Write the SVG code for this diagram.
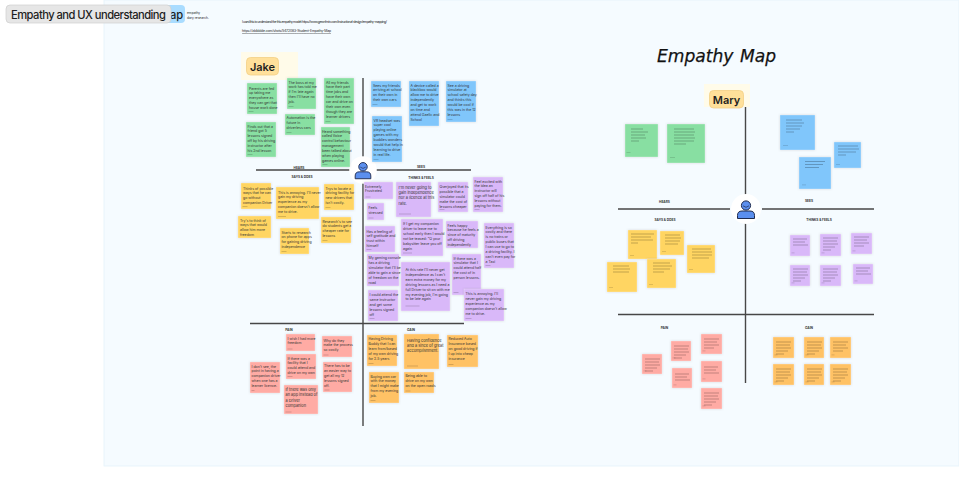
<svg xmlns="http://www.w3.org/2000/svg" width="959" height="480" viewBox="0 0 959 480">
<style>
text{font-family:Inter,"Liberation Sans",sans-serif;fill:#1e1e1e}
.s rect.b{stroke:#fff;stroke-opacity:.55;stroke-width:.5;filter:drop-shadow(0 .6px .8px rgba(0,0,0,.14))}
.g rect.b{fill:#88dfa2}.u rect.b{fill:#80c6fb}.y rect.b{fill:#ffd562}.p rect.b{fill:#d9b8f9}.r rect.b{fill:#ffaba4}.o rect.b{fill:#ffc265}
.s text{font-size:3.5px;fill:#333}
.m text{font-size:3.9px}
.c{fill:#000;fill-opacity:.16}
.l{stroke:#000;stroke-opacity:.27;stroke-width:.9}
.h{font-size:3.2px;font-weight:700;text-anchor:middle;fill:#333}
.ax{stroke:#474747;stroke-width:1.4;fill:none}
.tag{fill:#ffe09a;stroke:#f3cf85;stroke-width:.8}
.pb{fill:#5b8fee;stroke:#1f2b4d;stroke-width:1}
</style>
<defs>
<g id="person">
<circle r="15" fill="#fff"/>
<circle cy="-3.5" r="4.6" class="pb"/>
<path d="M-3 -3.2q3 3 6 0" fill="none" stroke="#1f2b4d" stroke-width=".7"/>
<path d="M-8.5 9.5v-3q0-4.5 4.5-4.5h8q4.500 0 4.500 4.500v3z" class="pb"/>
</g>
<path id="gr3" class="l" d="M3 6h14M3 9h12M3 12h15"/>
<path id="gr4" class="l" d="M3 5h15M3 8h13M3 11h15M3 14h10"/>
<path id="gr5" class="l" d="M3 5h15M3 8h14M3 11h15M3 14h12M3 17h8"/>
</defs>

<rect x="104" y="0" width="855" height="466" fill="#f5fbff" stroke="#e4f2fb" stroke-width=".8"/>

<g id="section-title">
<rect x="60" y="5" width="125" height="18" rx="4" fill="#a9dcff"/>
<text x="170" y="18.500" font-size="11.200" font-weight="500">ap</text>
<text x="187" y="14" font-size="3.200" fill="#555">empathy</text>
<text x="187" y="18.700" font-size="3.200" fill="#555">dary research.</text>
<rect x="6" y="5" width="165" height="18" rx="4" fill="#e6e6e6" stroke="#cfcfcf" stroke-width=".7"/>
<text x="11" y="18.500" font-size="11.200" font-weight="500" textLength="155" lengthAdjust="spacing">Empathy and UX understanding</text>
</g>

<g id="links">
<text x="242" y="22.500" font-size="3.400" textLength="145" fill="#333">I used this to understand the this empathy model:  https://www.geronfmin.com/instructional-design/empathy-mapping/</text>
<text x="242" y="32" font-size="3.400" textLength="89" text-decoration="underline" fill="#333">https://zbibbble.com/shots/5472083-Student-Empathy-Map</text>
</g>

<text id="heading" x="657" y="62" font-size="18" font-style="italic" word-spacing="1" textLength="119" lengthAdjust="spacingAndGlyphs" stroke="#111" stroke-width=".25" style="font-family:'DejaVu Sans',sans-serif;fill:#111">Empathy Map</text>

<g id="connectors">
<path class="ax" d="M363 78V426M256 170H350M376 170H471M250 323.500H464"/>
<path class="ax" d="M745.500 103V383M618 209H730M762 209H874M618 314.500H874"/>
</g>

<g id="jake">
<rect x="241" y="52" width="57" height="28" fill="#fffbe9"/>
<rect class="tag" x="246.500" y="57.500" width="32" height="17.500" rx="4"/>
<text x="262.500" y="70.500" font-size="11" font-weight="600" text-anchor="middle">Jake</text>
</g>
<g id="mary">
<rect x="704" y="84" width="46" height="23" fill="#fffbe9"/>
<rect class="tag" x="709.500" y="90.500" width="34" height="17.500" rx="4"/>
<text x="726.500" y="103.500" font-size="11" font-weight="600" text-anchor="middle">Mary</text>
</g>
<g id="person-jake"><use href="#person" transform="translate(363 170) scale(.92)"/></g>
<g id="person-mary"><use href="#person" transform="translate(746 209)"/></g>

<g id="labels">
<text class="h" x="299" y="168.500">HEARS</text><text class="h" x="302" y="177.500">SAYS &amp; DOES</text>
<text class="h" x="421" y="167.500">SEES</text><text class="h" x="421" y="178.500">THINKS &amp; FEELS</text>
<text class="h" x="289" y="330.500">PAIN</text><text class="h" x="411" y="330.500">GAIN</text>
<text class="h" x="664.500" y="203">HEARS</text><text class="h" x="665" y="220.500">SAYS &amp; DOES</text>
<text class="h" x="809" y="202">SEES</text><text class="h" x="819" y="220.500">THINKS &amp; FEELS</text>
<text class="h" x="664.500" y="329">PAIN</text><text class="h" x="809" y="329">GAIN</text>
</g>

<g id="j-hears">
<g class="s g" transform="translate(247 83)"><rect class="b" width="30" height="31"/><rect class="c" x="1.500" y="28" width="5" height="1"/><text y="6.500"><tspan x="2" dy="0">Parents are fed</tspan><tspan x="2" dy="4.900">up taking me</tspan><tspan x="2" dy="4.900">everywhere as</tspan><tspan x="2" dy="4.900">they can get that</tspan><tspan x="2" dy="4.900">house work done</tspan></text></g>
<g class="s g" transform="translate(287 78)"><rect class="b" width="29" height="31"/><rect class="c" x="1.500" y="28" width="5" height="1"/><text y="5.500"><tspan x="1.500" dy="0">The boss at my</tspan><tspan x="1.500" dy="4.900">work has told me</tspan><tspan x="1.500" dy="4.900">if I'm late again</tspan><tspan x="1.500" dy="4.900">then I'll have no</tspan><tspan x="1.500" dy="4.900">job.</tspan></text></g>
<g class="s g" transform="translate(324 78)"><rect class="b" width="30" height="46"/><rect class="c" x="1.500" y="43" width="5" height="1"/><text y="5.500"><tspan x="2" dy="0">All my friends</tspan><tspan x="2" dy="4.900">have their part</tspan><tspan x="2" dy="4.900">time jobs and</tspan><tspan x="2" dy="4.900">have their own</tspan><tspan x="2" dy="4.900">car and drive on</tspan><tspan x="2" dy="4.900">their own even</tspan><tspan x="2" dy="4.900">though they are</tspan><tspan x="2" dy="4.900">learner drivers</tspan></text></g>
<g class="s g" transform="translate(285 114)"><rect class="b" width="30" height="21"/><rect class="c" x="1.500" y="18" width="5" height="1"/><text y="5"><tspan x="1.500" dy="0">Automation is the</tspan><tspan x="1.500" dy="4.900">future in</tspan><tspan x="1.500" dy="4.900">driverless cars</tspan></text></g>
<g class="s g" transform="translate(246 122)"><rect class="b" width="30" height="35"/><rect class="c" x="1.500" y="32" width="5" height="1"/><text y="5.500"><tspan x="1.500" dy="0">Finds out that a</tspan><tspan x="1.500" dy="4.900">friend got 5</tspan><tspan x="1.500" dy="4.900">lessons signed</tspan><tspan x="1.500" dy="4.900">off by his driving</tspan><tspan x="1.500" dy="4.900">instructor after</tspan><tspan x="1.500" dy="4.900">his  2nd lesson</tspan></text></g>
<g class="s g" transform="translate(321 127)"><rect class="b" width="29" height="40"/><rect class="c" x="1.500" y="37" width="5" height="1"/><text y="5.500"><tspan x="1" dy="0">Heard something</tspan><tspan x="1" dy="4.900">called Voice</tspan><tspan x="1" dy="4.900">control behaviour</tspan><tspan x="1" dy="4.900">management</tspan><tspan x="1" dy="4.900">been talked about</tspan><tspan x="1" dy="4.900">when playing</tspan><tspan x="1" dy="4.900">games online.</tspan></text></g>
</g>

<g id="j-sees">
<g class="s u" transform="translate(371 81)"><rect class="b" width="30" height="26"/><rect class="c" x="1.500" y="23" width="5" height="1"/><text y="5.500"><tspan x="2" dy="0">Sees my friends</tspan><tspan x="2" dy="4.900">arriving at school</tspan><tspan x="2" dy="4.900">on their own in</tspan><tspan x="2" dy="4.900">their own cars</tspan></text></g>
<g class="s u" transform="translate(409 81)"><rect class="b" width="30" height="45"/><text y="5.500"><tspan x="1.500" dy="0">A device called a</tspan><tspan x="1.500" dy="4.900">blackbox would</tspan><tspan x="1.500" dy="4.900">allow me to drive</tspan><tspan x="1.500" dy="4.900">independently</tspan><tspan x="1.500" dy="4.900">and get to work</tspan><tspan x="1.500" dy="4.900">on time and</tspan><tspan x="1.500" dy="4.900">attend Gaelic and</tspan><tspan x="1.500" dy="4.900">School</tspan></text></g>
<g class="s u" transform="translate(446 81)"><rect class="b" width="30" height="41"/><rect class="c" x="1.500" y="38" width="5" height="1"/><text y="5.500"><tspan x="1.500" dy="0">See a driving</tspan><tspan x="1.500" dy="4.900">simulator at</tspan><tspan x="1.500" dy="4.900">school safety day</tspan><tspan x="1.500" dy="4.900">and thinks this</tspan><tspan x="1.500" dy="4.900">would be cool if</tspan><tspan x="1.500" dy="4.900">this was in the 12</tspan><tspan x="1.500" dy="4.900">lessons</tspan></text></g>
<g class="s u" transform="translate(372 116)"><rect class="b" width="30" height="46"/><rect class="c" x="1.500" y="43" width="5" height="1"/><text y="5.500"><tspan x="1.500" dy="0">VR headset was</tspan><tspan x="1.500" dy="4.900">super cool</tspan><tspan x="1.500" dy="4.900">playing online</tspan><tspan x="1.500" dy="4.900">games with my</tspan><tspan x="1.500" dy="4.900">buddies wonders</tspan><tspan x="1.500" dy="4.900">would that help in</tspan><tspan x="1.500" dy="4.900">learning to drive</tspan><tspan x="1.500" dy="4.900">in real life.</tspan></text></g>
</g>

<g id="j-says">
<g class="s y" transform="translate(241 183)"><rect class="b" width="30" height="26"/><rect class="c" x="1.500" y="23" width="5" height="1"/><text y="6.500"><tspan x="2" dy="0">Thinks of possible</tspan><tspan x="2" dy="4.900">ways that he can</tspan><tspan x="2" dy="4.900">go without</tspan><tspan x="2" dy="4.900">companion Driver</tspan></text></g>
<g class="s y" transform="translate(276 187)"><rect class="b" width="43" height="32"/><rect class="c" x="2" y="29" width="8" height="1"/><text y="6.500"><tspan x="2" dy="0">This is annoying.  I'll never</tspan><tspan x="2" dy="4.900">gain my driving</tspan><tspan x="2" dy="4.900">experience as my</tspan><tspan x="2" dy="4.900">companion doesn't allow</tspan><tspan x="2" dy="4.900">me to drive.</tspan></text></g>
<g class="s y" transform="translate(324 184)"><rect class="b" width="30" height="26"/><rect class="c" x="1.500" y="23" width="5" height="1"/><text y="5.500"><tspan x="1.500" dy="0">Trys to locate a</tspan><tspan x="1.500" dy="4.900">driving facility for</tspan><tspan x="1.500" dy="4.900">new drivers that</tspan><tspan x="1.500" dy="4.900">isn't costly.</tspan></text></g>
<g class="s y" transform="translate(238 216)"><rect class="b" width="33" height="22"/><text y="5.500"><tspan x="2" dy="0">Try's to think of</tspan><tspan x="2" dy="4.900">ways that would</tspan><tspan x="2" dy="4.900">allow him more</tspan><tspan x="2" dy="4.900">freedom</tspan></text></g>
<g class="s y" transform="translate(280 228)"><rect class="b" width="29" height="26"/><rect class="c" x="1.500" y="23" width="5" height="1"/><text y="5.500"><tspan x="1.500" dy="0">Starts to research</tspan><tspan x="1.500" dy="4.900">on phone for apps</tspan><tspan x="1.500" dy="4.900">for gaining driving</tspan><tspan x="1.500" dy="4.900">independence</tspan></text></g>
<g class="s y" transform="translate(321 217)"><rect class="b" width="30" height="26"/><rect class="c" x="1.500" y="23" width="5" height="1"/><text y="5.500"><tspan x="1.500" dy="0">Research's to see</tspan><tspan x="1.500" dy="4.900">do students get a</tspan><tspan x="1.500" dy="4.900">cheaper rate for</tspan><tspan x="1.500" dy="4.900">lessons</tspan></text></g>
</g>

<g id="j-thinks">
<g class="s p" transform="translate(364 182)"><rect class="b" width="29" height="17"/><rect class="c" x="1.500" y="14.500" width="5" height="1"/><text y="5.500"><tspan x="1" dy="0">Extremely</tspan><tspan x="1" dy="4.900">Frustrated</tspan></text></g>
<g class="s p m" transform="translate(396 182)"><rect class="b" width="35" height="35"/><rect class="c" x="3" y="31.500" width="12" height="1"/><text y="7"><tspan x="2.500" dy="0">I'm never going to</tspan><tspan x="2.500" dy="5.200">gain independence</tspan><tspan x="2.500" dy="5.200">nor a licence at this</tspan><tspan x="2.500" dy="5.200">rate.</tspan></text></g>
<g class="s p" transform="translate(438 182)"><rect class="b" width="30" height="30"/><rect class="c" x="1.500" y="27" width="5" height="1"/><text y="6"><tspan x="1.500" dy="0">Overjoyed that its</tspan><tspan x="1.500" dy="4.900">possible that a</tspan><tspan x="1.500" dy="4.900">simulator could</tspan><tspan x="1.500" dy="4.900">make the cost of</tspan><tspan x="1.500" dy="4.900">lessons cheaper</tspan></text></g>
<g class="s p" transform="translate(473 177)"><rect class="b" width="30" height="35"/><rect class="c" x="1.500" y="32" width="5" height="1"/><text y="5.500"><tspan x="1.500" dy="0">Feel excited with</tspan><tspan x="1.500" dy="4.900">the idea an</tspan><tspan x="1.500" dy="4.900">instructor will</tspan><tspan x="1.500" dy="4.900">sign off half of his</tspan><tspan x="1.500" dy="4.900">lessons without</tspan><tspan x="1.500" dy="4.900">paying for them.</tspan></text></g>
<g class="s p" transform="translate(367 203)"><rect class="b" width="17" height="17"/><rect class="c" x="1.500" y="14.500" width="5" height="1"/><text y="6"><tspan x="1.500" dy="0">Feels</tspan><tspan x="1.500" dy="4.900">stressed</tspan></text></g>
<g class="s p" transform="translate(365 226)"><rect class="b" width="30" height="26"/><rect class="c" x="1.500" y="23" width="5" height="1"/><text y="6.500"><tspan x="1.500" dy="0">Has a feeling of</tspan><tspan x="1.500" dy="4.900">self gratitude and</tspan><tspan x="1.500" dy="4.900">trust within</tspan><tspan x="1.500" dy="4.900">himself</tspan></text></g>
<g class="s p" transform="translate(401 219)"><rect class="b" width="42" height="37"/><rect class="c" x="2" y="33.500" width="9" height="1"/><text y="6"><tspan x="2" dy="0">If I get my companion</tspan><tspan x="2" dy="4.900">driver to leave me to</tspan><tspan x="2" dy="4.900">school early then I would</tspan><tspan x="2" dy="4.900">not be teased: "O your</tspan><tspan x="2" dy="4.900">babysitter leave you off</tspan><tspan x="2" dy="4.900">again</tspan></text></g>
<g class="s p" transform="translate(446 221)"><rect class="b" width="32" height="27"/><text y="5.500"><tspan x="1.500" dy="0">Feels happy</tspan><tspan x="1.500" dy="4.900">because he feels a</tspan><tspan x="1.500" dy="4.900">since of maturity</tspan><tspan x="1.500" dy="4.900">off driving</tspan><tspan x="1.500" dy="4.900">independently</tspan></text></g>
<g class="s p" transform="translate(484 223)"><rect class="b" width="30" height="45"/><rect class="c" x="1.500" y="42" width="5" height="1"/><text y="5.500"><tspan x="1.500" dy="0">Everything is so</tspan><tspan x="1.500" dy="4.900">costly and there</tspan><tspan x="1.500" dy="4.900">is no trains or</tspan><tspan x="1.500" dy="4.900">public buses that</tspan><tspan x="1.500" dy="4.900">I can use to go to</tspan><tspan x="1.500" dy="4.900">a driving facility. I</tspan><tspan x="1.500" dy="4.900">can't even pay for</tspan><tspan x="1.500" dy="4.900">a Taxi</tspan></text></g>
<g class="s p" transform="translate(367 254)"><rect class="b" width="32" height="32"/><text y="5"><tspan x="1.500" dy="0">My gaming console</tspan><tspan x="1.500" dy="4.900">has a driving</tspan><tspan x="1.500" dy="4.900">simulator that I'll be</tspan><tspan x="1.500" dy="4.900">able to gain a since</tspan><tspan x="1.500" dy="4.900">of freedom on the</tspan><tspan x="1.500" dy="4.900">road</tspan></text></g>
<g class="s p" transform="translate(401 262)"><rect class="b" width="49" height="49"/><rect class="c" x="4.500" y="43.500" width="14" height="1"/><text y="9"><tspan x="4.500" dy="0">At this rate I'll never get</tspan><tspan x="4.500" dy="4.900">independence as I can't</tspan><tspan x="4.500" dy="4.900">earn extra money for my</tspan><tspan x="4.500" dy="4.900">driving lessons as I need a</tspan><tspan x="4.500" dy="4.900">full Driver to sit on with me</tspan><tspan x="4.500" dy="4.900">my evening  job, I'm going</tspan><tspan x="4.500" dy="4.900">to be late again</tspan></text></g>
<g class="s p" transform="translate(452 254)"><rect class="b" width="29" height="41"/><rect class="c" x="1.500" y="38" width="5" height="1"/><text y="5.500"><tspan x="1.500" dy="0">If there was a</tspan><tspan x="1.500" dy="4.900">simulator that I</tspan><tspan x="1.500" dy="4.900">could attend half</tspan><tspan x="1.500" dy="4.900">the cost of in</tspan><tspan x="1.500" dy="4.900">person lessons.</tspan></text></g>
<g class="s p" transform="translate(368 290)"><rect class="b" width="30" height="31"/><rect class="c" x="1.500" y="28" width="5" height="1"/><text y="6"><tspan x="1.500" dy="0">I could attend the</tspan><tspan x="1.500" dy="4.900">same instructor</tspan><tspan x="1.500" dy="4.900">and get some</tspan><tspan x="1.500" dy="4.900">lessons signed</tspan><tspan x="1.500" dy="4.900">off</tspan></text></g>
<g class="s p" transform="translate(464 289)"><rect class="b" width="40" height="32"/><rect class="c" x="1.500" y="29" width="6" height="1"/><text y="6"><tspan x="1.500" dy="0">This is annoying.  I'll</tspan><tspan x="1.500" dy="4.900">never gain my driving</tspan><tspan x="1.500" dy="4.900">experience as my</tspan><tspan x="1.500" dy="4.900">companion doesn't allow</tspan><tspan x="1.500" dy="4.900">me to drive.</tspan></text></g>
</g>

<g id="j-pain">
<g class="s r" transform="translate(286 334)"><rect class="b" width="29" height="17"/><rect class="c" x="1.500" y="14.500" width="5" height="1"/><text y="5.500"><tspan x="1.500" dy="0">I wish I had more</tspan><tspan x="1.500" dy="4.900">freedom</tspan></text></g>
<g class="s r" transform="translate(322 336)"><rect class="b" width="30" height="21"/><rect class="c" x="1.500" y="18.500" width="5" height="1"/><text y="5.500"><tspan x="1.500" dy="0">Why do they</tspan><tspan x="1.500" dy="4.900">make the process</tspan><tspan x="1.500" dy="4.900">so costly</tspan></text></g>
<g class="s r" transform="translate(250 362)"><rect class="b" width="30" height="31"/><rect class="c" x="1.500" y="28" width="3" height="1"/><text y="5.500"><tspan x="1.500" dy="0">I don't see, the</tspan><tspan x="1.500" dy="4.900">point in having a</tspan><tspan x="1.500" dy="4.900">companion driver</tspan><tspan x="1.500" dy="4.900">when one has a</tspan><tspan x="1.500" dy="4.900">learner licence.</tspan></text></g>
<g class="s r" transform="translate(286 354)"><rect class="b" width="30" height="25"/><rect class="c" x="1.500" y="22" width="5" height="1"/><text y="5.500"><tspan x="1.500" dy="0">If there was a</tspan><tspan x="1.500" dy="4.900">facility that I</tspan><tspan x="1.500" dy="4.900">could attend and</tspan><tspan x="1.500" dy="4.900">drive on my own</tspan></text></g>
<g class="s r" transform="translate(323 362)"><rect class="b" width="29" height="30"/><rect class="c" x="1.500" y="27.500" width="5" height="1"/><text y="5"><tspan x="1" dy="0">There has to be</tspan><tspan x="1" dy="4.900">an easier way to</tspan><tspan x="1" dy="4.900">get all my 12</tspan><tspan x="1" dy="4.900">lessons signed</tspan><tspan x="1" dy="4.900">off.</tspan></text></g>
<g class="s r m" transform="translate(284 385)"><rect class="b" width="34" height="29"/><rect class="c" x="1.500" y="26.500" width="6" height="1"/><text y="6"><tspan x="1.500" dy="0">If there was only</tspan><tspan x="1.500" dy="5.400">an app instead of</tspan><tspan x="1.500" dy="5.400">a Driver</tspan><tspan x="1.500" dy="5.400">companion</tspan></text></g>
</g>

<g id="j-gain">
<g class="s o" transform="translate(367 335)"><rect class="b" width="30" height="31"/><rect class="c" x="1.500" y="28" width="5" height="1"/><text y="5"><tspan x="1.500" dy="0">Having Driving</tspan><tspan x="1.500" dy="4.900">Buddy that I can</tspan><tspan x="1.500" dy="4.900">learn from/based</tspan><tspan x="1.500" dy="4.900">of my own driving</tspan><tspan x="1.500" dy="4.900">for 2.5 years</tspan></text></g>
<g class="s o m" transform="translate(404 334)"><rect class="b" width="35" height="35"/><rect class="c" x="3" y="31.500" width="11" height="1"/><text y="7.500"><tspan x="3" dy="0">Having confidence</tspan><tspan x="3" dy="5.200">and a since of great</tspan><tspan x="3" dy="5.200">accomplishment.</tspan></text></g>
<g class="s o" transform="translate(447 335)"><rect class="b" width="31" height="32"/><rect class="c" x="1.500" y="29" width="5" height="1"/><text y="5"><tspan x="1.500" dy="0">Reduced Auto</tspan><tspan x="1.500" dy="4.900">Insurance based</tspan><tspan x="1.500" dy="4.900">on good driving if</tspan><tspan x="1.500" dy="4.900">I up into cheap</tspan><tspan x="1.500" dy="4.900">insurance</tspan></text></g>
<g class="s o" transform="translate(369 372)"><rect class="b" width="30" height="31"/><rect class="c" x="1.500" y="28" width="5" height="1"/><text y="5.500"><tspan x="1.500" dy="0">Buying own car</tspan><tspan x="1.500" dy="4.900">with the money</tspan><tspan x="1.500" dy="4.900">that I might make</tspan><tspan x="1.500" dy="4.900">from my evening</tspan><tspan x="1.500" dy="4.900">job.</tspan></text></g>
<g class="s o" transform="translate(404 372)"><rect class="b" width="30" height="21"/><rect class="c" x="1.500" y="18.500" width="5" height="1"/><text y="5"><tspan x="1.500" dy="0">Being able to</tspan><tspan x="1.500" dy="4.900">drive on my own</tspan><tspan x="1.500" dy="4.900">on the open roads</tspan></text></g>
</g>

<g id="m-hears">
<g class="s g" transform="translate(625 124)"><rect class="b" width="33" height="33"/><rect class="c" x="1.500" y="28" width="4" height=".8"/><path class="l" d="M6 5h12M6 8h17M6 11h14M6 14h15M6 17h8"/></g>
<g class="s g" transform="translate(667 124)"><rect class="b" width="38" height="39"/><rect class="c" x="3" y="33" width="5" height=".8"/><path class="l" d="M7 5h20M7 8h21M7 11h20M7 14h21M7 17h20M7 20h12"/></g>
</g>
<g id="m-sees">
<g class="s u" transform="translate(780 115)"><rect class="b" width="35" height="35"/><rect class="c" x="3" y="30" width="5" height=".8"/><path class="l" d="M6 5h16M6 8h18M6 11h16M6 14h14M6 17h8"/></g>
<g class="s u" transform="translate(799 157)"><rect class="b" width="32" height="32"/><rect class="c" x="3" y="27.500" width="4" height=".8"/><path class="l" d="M6 4.500h20M6 7.500h18M6 10.500h14"/></g>
<g class="s u" transform="translate(834 142)"><rect class="b" width="27" height="26"/><rect class="c" x="2" y="22" width="4" height=".8"/><path class="l" d="M4 4h20M4 7h21M4 10h18M4 13h8"/></g>
</g>
<g id="m-says">
<g class="s y" transform="translate(628 230)"><rect class="b" width="29" height="29"/><rect class="c" x="2" y="25" width="4" height=".8"/><path class="l" d="M3 4h23M3 7h20M3 10h22M3 13h7"/></g>
<g class="s y" transform="translate(660 231)"><rect class="b" width="24" height="24"/><rect class="c" x="2" y="20" width="4" height=".8"/><path class="l" d="M5 4h15M5 7h16M5 10h15M5 13h13"/></g>
<g class="s y" transform="translate(687 245)"><rect class="b" width="28" height="28"/><rect class="c" x="2" y="24" width="4" height=".8"/><path class="l" d="M5 4h19M5 7h20M5 10h20M5 13h17"/></g>
<g class="s y" transform="translate(607 262)"><rect class="b" width="30" height="30"/><rect class="c" x="2" y="25" width="4" height=".8"/><path class="l" d="M6 4h16M6 7h17M6 10h16"/></g>
<g class="s y" transform="translate(647 259)"><rect class="b" width="29" height="29"/><rect class="c" x="2" y="25" width="4" height=".8"/><path class="l" d="M6 4h17M6 7h19M6 10h17M6 13h11"/></g>
</g>
<g id="m-thinks">
<g class="s p" transform="translate(790 235)"><rect class="b" width="20" height="21"/><rect class="c" x="1.500" y="17.500" width="3" height=".8"/><use href="#gr3" y="-2"/></g>
<g class="s p" transform="translate(820 234)"><rect class="b" width="21" height="22"/><rect class="c" x="1.500" y="18.500" width="3" height=".8"/><use href="#gr5" y="-1"/></g>
<g class="s p" transform="translate(851 233)"><rect class="b" width="21" height="21"/><rect class="c" x="1.500" y="17.500" width="3" height=".8"/><use href="#gr4" y="-1"/></g>
<g class="s p" transform="translate(790 265)"><rect class="b" width="20" height="21"/><rect class="c" x="1.500" y="17.500" width="3" height=".8"/><use href="#gr5" y="-1"/></g>
<g class="s p" transform="translate(820 265)"><rect class="b" width="21" height="21"/><rect class="c" x="1.500" y="17.500" width="3" height=".8"/><use href="#gr5" y="-1"/></g>
<g class="s p" transform="translate(853 264)"><rect class="b" width="20" height="20"/><rect class="c" x="1.500" y="16.500" width="3" height=".8"/><use href="#gr3" y="-2"/></g>
</g>
<g id="m-pain">
<g class="s r" transform="translate(642 354)"><rect class="b" width="20" height="20"/><rect class="c" x="1.500" y="16.500" width="3" height=".8"/><use href="#gr5"/></g>
<g class="s r" transform="translate(671 341)"><rect class="b" width="20" height="20"/><rect class="c" x="1.500" y="16.500" width="3" height=".8"/><use href="#gr5"/></g>
<g class="s r" transform="translate(672 368)"><rect class="b" width="20" height="20"/><rect class="c" x="1.500" y="16.500" width="3" height=".8"/><use href="#gr3"/></g>
<g class="s r" transform="translate(701 334)"><rect class="b" width="21" height="20"/><rect class="c" x="1.500" y="16.500" width="3" height=".8"/><use href="#gr4"/></g>
<g class="s r" transform="translate(701 361)"><rect class="b" width="21" height="21"/><rect class="c" x="1.500" y="17.500" width="3" height=".8"/><use href="#gr3"/></g>
<g class="s r" transform="translate(701 388)"><rect class="b" width="21" height="21"/><rect class="c" x="1.500" y="17.500" width="3" height=".8"/><use href="#gr5"/></g>
</g>
<g id="m-gain">
<g class="s o" transform="translate(773 337)"><rect class="b" width="21" height="21"/><rect class="c" x="1.500" y="17.500" width="3" height=".8"/><use href="#gr5"/></g>
<g class="s o" transform="translate(804 337)"><rect class="b" width="20" height="21"/><rect class="c" x="1.500" y="17.500" width="3" height=".8"/><use href="#gr5"/></g>
<g class="s o" transform="translate(830 337)"><rect class="b" width="21" height="21"/><rect class="c" x="1.500" y="17.500" width="3" height=".8"/><use href="#gr4"/></g>
<g class="s o" transform="translate(773 364)"><rect class="b" width="21" height="21"/><rect class="c" x="1.500" y="17.500" width="3" height=".8"/><use href="#gr5"/></g>
<g class="s o" transform="translate(804 364)"><rect class="b" width="20" height="21"/><rect class="c" x="1.500" y="17.500" width="3" height=".8"/><use href="#gr5"/></g>
<g class="s o" transform="translate(830 364)"><rect class="b" width="21" height="21"/><rect class="c" x="1.500" y="17.500" width="3" height=".8"/><use href="#gr5"/></g>
</g>
</svg>
